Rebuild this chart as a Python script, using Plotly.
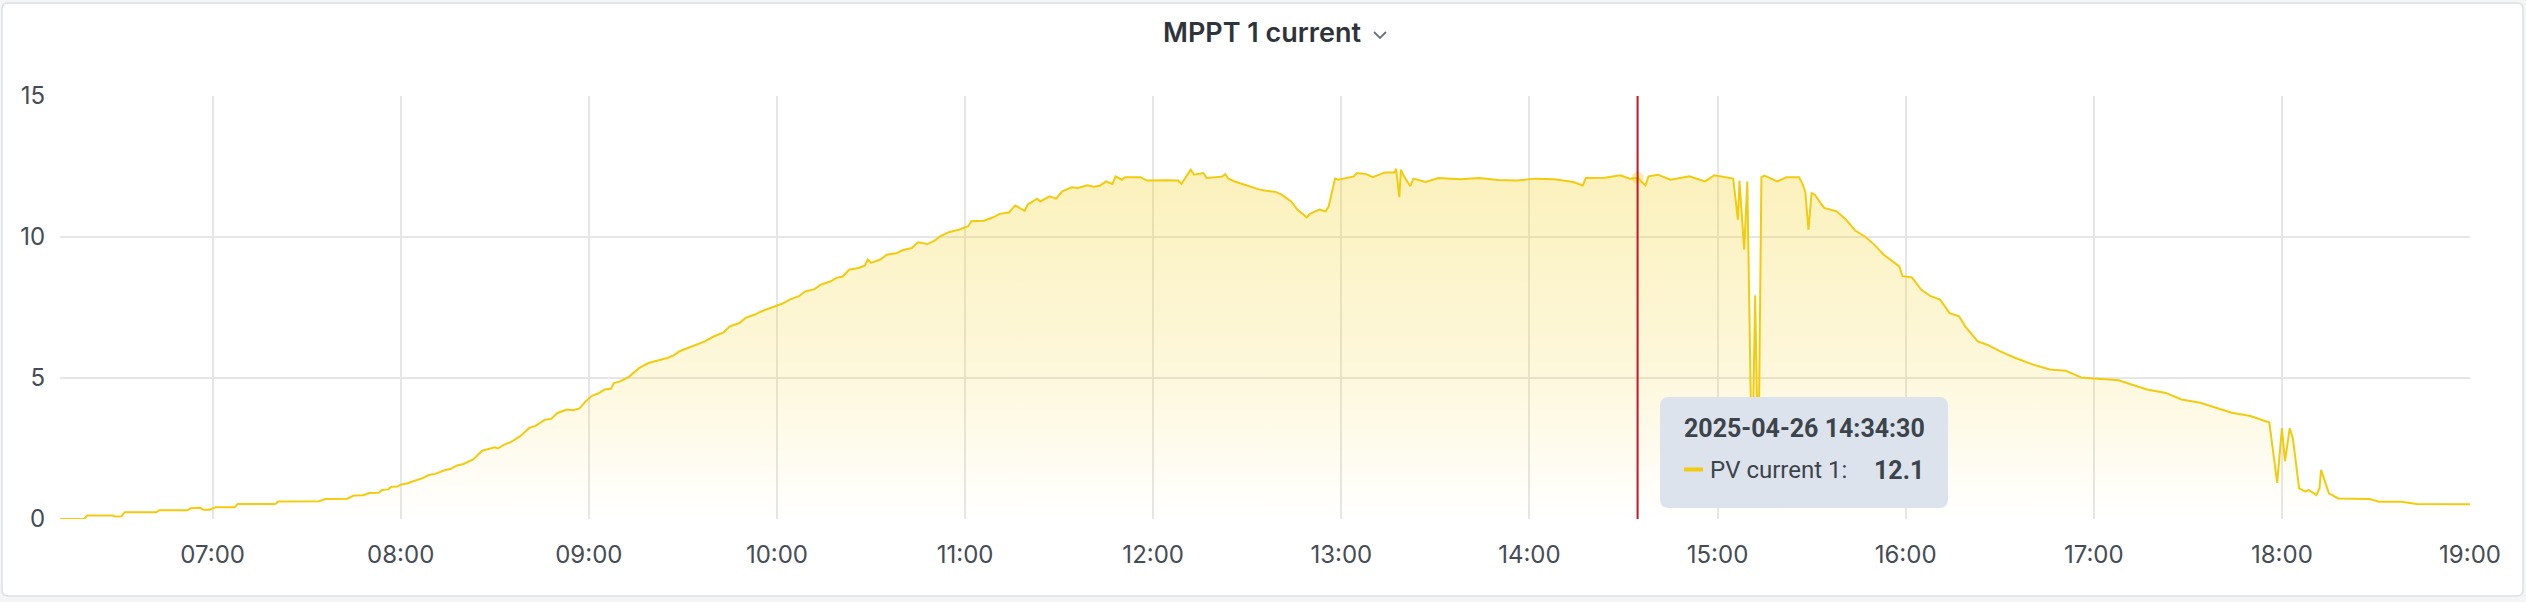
import plotly.graph_objects as go

DATE = "2025-04-26"

TIMES = [
    "06:11:20", "06:19:00", "06:20:00", "06:28:00", "06:29:00", "06:31:00", "06:32:00", "06:42:00",
    "06:43:00", "06:52:00", "06:53:00", "06:56:00", "06:57:00", "06:59:00", "07:01:00", "07:07:00",
    "07:08:00", "07:20:00", "07:21:00", "07:34:00", "07:36:00", "07:43:00", "07:45:00", "07:48:00",
    "07:50:00", "07:53:00", "07:54:00", "07:56:00", "07:57:00", "07:59:00", "08:00:00", "08:02:00",
    "08:04:00", "08:07:00", "08:09:00", "08:11:00", "08:14:00", "08:16:00", "08:18:00", "08:20:00",
    "08:23:00", "08:25:00", "08:26:00", "08:28:00", "08:30:00", "08:31:00", "08:33:00", "08:35:00",
    "08:38:00", "08:41:00", "08:43:00", "08:46:00", "08:48:00", "08:50:00", "08:53:00", "08:55:00",
    "08:57:00", "08:59:00", "09:01:00", "09:03:00", "09:05:00", "09:07:00", "09:08:00", "09:10:00",
    "09:13:00", "09:16:00", "09:19:00", "09:22:00", "09:25:00", "09:27:00", "09:29:00", "09:32:00",
    "09:35:00", "09:37:00", "09:40:00", "09:43:00", "09:45:00", "09:48:00", "09:50:00", "09:53:00",
    "09:55:00", "09:58:00", "10:00:00", "10:02:00", "10:04:00", "10:07:00", "10:09:00", "10:12:00",
    "10:14:00", "10:17:00", "10:19:00", "10:21:00", "10:23:00", "10:26:00", "10:28:00", "10:29:00",
    "10:30:00", "10:33:00", "10:35:00", "10:38:00", "10:40:00", "10:43:00", "10:45:00", "10:48:00",
    "10:50:00", "10:52:00", "10:55:00", "10:58:00", "11:01:00", "11:02:00", "11:06:00", "11:09:00",
    "11:11:00", "11:14:00", "11:16:00", "11:19:00", "11:20:00", "11:23:00", "11:24:00", "11:27:00",
    "11:29:00", "11:31:00", "11:34:00", "11:36:00", "11:39:00", "11:41:00", "11:43:00", "11:45:00",
    "11:47:00", "11:48:00", "11:50:00", "11:51:00", "11:56:00", "11:58:00", "12:04:00", "12:08:00",
    "12:09:00", "12:12:00", "12:13:00", "12:16:00", "12:17:00", "12:22:00", "12:23:00", "12:24:00",
    "12:26:00", "12:29:00", "12:34:00", "12:36:00", "12:39:00", "12:41:00", "12:44:00", "12:46:00",
    "12:49:00", "12:50:00", "12:53:00", "12:55:00", "12:56:00", "12:58:00", "12:59:00", "13:04:00",
    "13:05:00", "13:08:00", "13:10:00", "13:14:00", "13:17:00", "13:17:30", "13:18:30", "13:19:00",
    "13:20:00", "13:22:00", "13:23:00", "13:27:00", "13:31:00", "13:38:00", "13:44:00", "13:50:00",
    "13:56:00", "14:02:00", "14:08:00", "14:14:00", "14:17:00", "14:18:00", "14:24:00", "14:29:00",
    "14:32:00", "14:34:30", "14:37:00", "14:38:00", "14:41:00", "14:45:00", "14:51:00", "14:56:00",
    "14:59:00", "15:05:00", "15:06:30", "15:07:00", "15:08:30", "15:09:30", "15:11:00", "15:12:00",
    "15:13:00", "15:14:00", "15:15:00", "15:19:00", "15:22:00", "15:26:00", "15:27:00", "15:28:00",
    "15:29:00", "15:30:00", "15:31:00", "15:34:00", "15:38:00", "15:41:00", "15:44:00", "15:47:00",
    "15:50:00", "15:53:00", "15:56:00", "15:58:00", "15:59:00", "16:02:00", "16:05:00", "16:08:00",
    "16:11:00", "16:14:00", "16:17:00", "16:19:00", "16:23:00", "16:26:00", "16:30:00", "16:35:00",
    "16:40:00", "16:46:00", "16:51:00", "16:56:00", "17:00:00", "17:08:00", "17:12:00", "17:17:00",
    "17:23:00", "17:28:00", "17:34:00", "17:39:00", "17:44:00", "17:50:00", "17:55:00", "17:56:00",
    "17:58:30", "18:00:00", "18:01:00", "18:02:30", "18:03:30", "18:05:30", "18:07:30", "18:08:30",
    "18:11:00", "18:12:00", "18:12:30", "18:14:00", "18:15:00", "18:18:00", "18:23:00", "18:28:00",
    "18:31:00", "18:38:00", "18:43:00", "19:00:00",
]

PV_CURRENT_1 = [
    0.00, 0.00, 0.12, 0.12, 0.09, 0.10, 0.24, 0.24,
    0.31, 0.31, 0.38, 0.40, 0.33, 0.33, 0.42, 0.42,
    0.53, 0.53, 0.62, 0.63, 0.71, 0.72, 0.83, 0.84,
    0.92, 0.93, 1.03, 1.05, 1.14, 1.15, 1.22, 1.26,
    1.34, 1.45, 1.56, 1.60, 1.73, 1.78, 1.90, 1.95,
    2.10, 2.30, 2.42, 2.48, 2.54, 2.50, 2.64, 2.72,
    2.93, 3.23, 3.30, 3.52, 3.55, 3.76, 3.88, 3.86,
    3.92, 4.17, 4.37, 4.45, 4.59, 4.62, 4.82, 4.88,
    5.06, 5.35, 5.53, 5.62, 5.71, 5.80, 5.95, 6.08,
    6.22, 6.30, 6.48, 6.62, 6.83, 6.95, 7.13, 7.25,
    7.36, 7.48, 7.57, 7.65, 7.78, 7.90, 8.07, 8.15,
    8.31, 8.42, 8.55, 8.60, 8.84, 8.90, 8.98, 9.20,
    9.08, 9.20, 9.37, 9.42, 9.53, 9.61, 9.81, 9.75,
    9.85, 10.02, 10.18, 10.26, 10.38, 10.56, 10.58, 10.70,
    10.82, 10.87, 11.12, 10.93, 11.15, 11.36, 11.26, 11.44,
    11.36, 11.62, 11.76, 11.74, 11.83, 11.78, 11.82, 11.97,
    11.88, 12.15, 12.03, 12.12, 12.12, 12.00, 12.01, 12.00,
    11.88, 12.39, 12.21, 12.27, 12.09, 12.14, 12.23, 12.07,
    11.97, 11.86, 11.68, 11.64, 11.60, 11.50, 11.26, 10.97,
    10.70, 10.82, 10.97, 10.91, 11.09, 12.07, 12.03, 12.15,
    12.27, 12.23, 12.12, 12.29, 12.29, 12.42, 11.41, 12.39,
    12.15, 11.80, 12.07, 11.95, 12.09, 12.05, 12.09, 12.02,
    12.00, 12.07, 12.05, 11.95, 11.83, 12.09, 12.10, 12.19,
    12.07, 12.10, 11.83, 12.15, 12.21, 12.03, 12.15, 11.97,
    12.19, 12.07, 10.61, 12.00, 9.55, 11.97, 1.50, 7.93,
    1.50, 12.12, 12.18, 11.97, 12.12, 12.12, 11.91, 11.60,
    10.26, 11.56, 11.50, 11.03, 10.91, 10.61, 10.22, 10.02,
    9.73, 9.37, 9.14, 8.96, 8.61, 8.57, 8.13, 7.90,
    7.78, 7.30, 7.19, 6.83, 6.30, 6.18, 5.95, 5.71,
    5.50, 5.30, 5.26, 5.02, 4.98, 4.92, 4.77, 4.59,
    4.47, 4.24, 4.12, 3.95, 3.77, 3.65, 3.48, 3.42,
    1.28, 3.22, 2.05, 3.22, 2.86, 1.09, 0.97, 1.03,
    0.85, 1.09, 1.74, 1.21, 0.91, 0.73, 0.71, 0.71,
    0.61, 0.61, 0.53, 0.52,
]

SERIES_NAME = "PV current 1"
TITLE = "MPPT 1 current"
HOVER_TIME = "14:34:30"
HOVER_VALUE = 12.1
X_START, X_END = "06:11:20", "19:00:00"
Y_TICKS = [0, 5, 10, 15]
X_TICK_HOURS = ["07:00", "08:00", "09:00", "10:00", "11:00", "12:00", "13:00",
                "14:00", "15:00", "16:00", "17:00", "18:00", "19:00"]

# ---- layout geometry (pixels) ----
FIG_W, FIG_H = 2526, 602
L, R, T, B = 60, 2470, 96, 519
PW, PH = R - L, B - T


def px(x):
    return (x - L) / PW


def py(y):
    return (B - y) / PH


def rrect(x0, y0, x1, y1, r):
    pts = [
        f"M {px(x0 + r)},{py(y0)}",
        f"L {px(x1 - r)},{py(y0)}",
        f"Q {px(x1)},{py(y0)} {px(x1)},{py(y0 + r)}",
        f"L {px(x1)},{py(y1 - r)}",
        f"Q {px(x1)},{py(y1)} {px(x1 - r)},{py(y1)}",
        f"L {px(x0 + r)},{py(y1)}",
        f"Q {px(x0)},{py(y1)} {px(x0)},{py(y1 - r)}",
        f"L {px(x0)},{py(y0 + r)}",
        f"Q {px(x0)},{py(y0)} {px(x0 + r)},{py(y0)}",
        "Z",
    ]
    return " ".join(pts)


YELLOW = "#F2CC0C"
TEXT = "#464c54"
FONT = "Inter"
TIP_FONT = "Roboto"

x = [f"{DATE} {t}" for t in TIMES]

fig = go.Figure()
fig.add_trace(go.Scatter(
    x=x, y=PV_CURRENT_1, mode="lines", name=SERIES_NAME,
    line=dict(color=YELLOW, width=2),
    fill="tozeroy",
    fillgradient=dict(
        type="vertical",
        colorscale=[[0, "rgba(242,204,12,0.0)"], [0.4, "rgba(242,204,12,0.14)"],
                    [1, "rgba(242,204,12,0.28)"]],
        start=0, stop=12.5,
    ),
    hoverinfo="skip",
))
# hover point highlight
fig.add_trace(go.Scatter(
    x=[f"{DATE} {HOVER_TIME}"], y=[HOVER_VALUE], mode="markers",
    marker=dict(color="rgba(242,204,12,0.35)", size=12),
    hoverinfo="skip", showlegend=False,
))

shapes = [
    # panel background
    dict(type="path", xref="paper", yref="paper", layer="below",
         path=rrect(2, 3, 2523, 596, 6),
         fillcolor="#ffffff", line=dict(color="#dcdfe5", width=1.5)),
    # hover cursor line
    dict(type="line", xref="x", yref="paper", layer="above",
         x0=f"{DATE} {HOVER_TIME}", x1=f"{DATE} {HOVER_TIME}", y0=0, y1=1,
         line=dict(color="#C4162A", width=2)),
    # tooltip box
    dict(type="path", xref="paper", yref="paper", layer="above",
         path=rrect(1660, 397, 1948, 508, 9),
         fillcolor="#dde3ec", line=dict(width=0)),
    # tooltip legend swatch
    dict(type="line", xref="paper", yref="paper", layer="above",
         x0=px(1684), x1=px(1703), y0=py(469.5), y1=py(469.5),
         line=dict(color=YELLOW, width=4)),
    # title chevron
    dict(type="path", xref="paper", yref="paper", layer="above",
         path=f"M {px(1374)},{py(32)} L {px(1380)},{py(38)} L {px(1386)},{py(32)}",
         line=dict(color="#6e737a", width=1.8)),
]

annotations = [
    dict(text=TITLE, xref="paper", yref="paper", x=px(1262), y=py(32),
         xanchor="center", yanchor="middle", showarrow=False,
         font=dict(family=FONT, size=27, color="#2f343b", weight=600)),
    dict(text=f"<b>{DATE} {HOVER_TIME}</b>", xref="paper", yref="paper",
         x=px(1804), y=py(428.5), xanchor="center", yanchor="middle", showarrow=False,
         font=dict(family=TIP_FONT, size=25, color="#3d434b")),
    dict(text=f"{SERIES_NAME}:", xref="paper", yref="paper",
         x=px(1708), y=py(470), xanchor="left", yanchor="middle", showarrow=False,
         font=dict(family=TIP_FONT, size=24, color="#3d434b")),
    dict(text=f"<b>{HOVER_VALUE}</b>", xref="paper", yref="paper",
         x=px(1926), y=py(470), xanchor="right", yanchor="middle", showarrow=False,
         font=dict(family=TIP_FONT, size=25, color="#3d434b")),
]

fig.update_layout(
    width=FIG_W, height=FIG_H,
    margin=dict(l=L, r=FIG_W - R, t=T, b=FIG_H - B, pad=0),
    paper_bgcolor="#f4f5f5", plot_bgcolor="rgba(0,0,0,0)",
    showlegend=False, hovermode=False,
    font=dict(family=FONT, size=24, color=TEXT),
    shapes=shapes, annotations=annotations,
)
fig.update_xaxes(
    type="date",
    range=[f"{DATE} {X_START}", f"{DATE} {X_END}"],
    tickvals=[f"{DATE} {h}" for h in X_TICK_HOURS],
    ticktext=X_TICK_HOURS,
    showgrid=True, gridcolor="#e6e6e6", gridwidth=2,
    zeroline=False, showline=False,
    ticks="outside", ticklen=14, tickcolor="rgba(0,0,0,0)",
    tickfont=dict(family=FONT, size=24, color=TEXT),
    fixedrange=True,
)
fig.update_yaxes(
    range=[0, 15], tickvals=Y_TICKS,
    showgrid=True, gridcolor="#e6e6e6", gridwidth=2,
    zeroline=False, showline=False,
    ticks="outside", ticklen=9, tickcolor="rgba(0,0,0,0)",
    tickfont=dict(family=FONT, size=24, color=TEXT),
    fixedrange=True,
)

fig.write_html("out.html", config={"displayModeBar": False},
               post_script="document.body.style.margin='0';document.body.style.overflow='hidden';")
